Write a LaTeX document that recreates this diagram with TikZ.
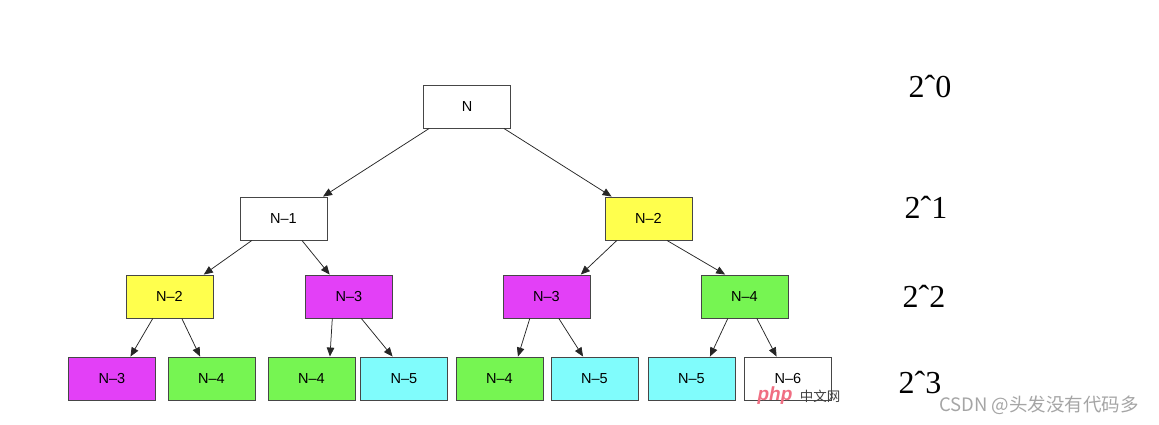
\documentclass[tikz,border=0pt]{standalone}
\usepackage{fontspec}
\setmainfont{Liberation Sans}
\newfontfamily\lblfont{Liberation Serif}
\newfontfamily\cjk{Noto Sans CJK SC}
\usetikzlibrary{arrows.meta,calc}
\definecolor{boxline}{RGB}{70,70,70}
\definecolor{fyellow}{RGB}{255,255,77}
\definecolor{fmagenta}{RGB}{227,64,247}
\definecolor{fgreen}{RGB}{118,245,82}
\definecolor{fcyan}{RGB}{128,252,252}
\definecolor{wmgray}{RGB}{165,165,165}
\definecolor{phppink}{RGB}{240,110,130}
\newcommand\tedge[4]{\draw[edge] ($(#1.south west)!#2!(#1.south east)$) -- ($(#3.north west)!#4!(#3.north east)$);}
\begin{document}
\begin{tikzpicture}[x=1pt,y=-1pt,
  box/.style={draw=boxline, line width=0.9pt, minimum width=87pt, minimum height=43pt, inner sep=0pt,
    font=\fontsize{14.5}{17}\selectfont},
  wbox/.style={box, fill=white},
  ybox/.style={box, fill=fyellow},
  mbox/.style={box, fill=fmagenta},
  gbox/.style={box, fill=fgreen},
  cbox/.style={box, fill=fcyan},
  edge/.style={draw=black!85, line width=0.75pt, -{Triangle[length=9pt,width=7.5pt]}},
  lvl/.style={anchor=base, inner sep=0pt, font=\lblfont\fontsize{32}{36}\selectfont}
]
\useasboundingbox (0,0) rectangle (1159,424);
% level 0
\node[wbox] (n0) at (467,106.5) {N};
% level 1
\node[wbox] (a1) at (283.5,218.5) {N–1};
\node[ybox] (a2) at (648.5,218.5) {N–2};
% level 2
\node[ybox] (b1) at (169.5,296.5) {N–2};
\node[mbox] (b2) at (349,296.5) {N–3};
\node[mbox] (b3) at (546.5,296.5) {N–3};
\node[gbox] (b4) at (744.5,296.5) {N–4};
% level 3
\node[mbox] (c1) at (112,378.5) {N–3};
\node[gbox] (c2) at (211.5,378.5) {N–4};
\node[gbox] (c3) at (311.5,378.5) {N–4};
\node[cbox] (c4) at (404,378.5) {N–5};
\node[gbox] (c5) at (499.5,378.5) {N–4};
\node[cbox] (c6) at (594.5,378.5) {N–5};
\node[cbox] (c7) at (691.5,378.5) {N–5};
\node[wbox] (c8) at (788,378.5) {N–6};
% edges
\tedge{n0}{.07}{a1}{.95}
\tedge{n0}{.92}{a2}{.08}
\tedge{a1}{.14}{b1}{.89}
\tedge{a1}{.71}{b2}{.28}
\tedge{a2}{.14}{b3}{.89}
\tedge{a2}{.71}{b4}{.28}
\tedge{b1}{.31}{c1}{.71}
\tedge{b1}{.64}{c2}{.37}
\tedge{b2}{.31}{c3}{.71}
\tedge{b2}{.64}{c4}{.37}
\tedge{b3}{.31}{c5}{.71}
\tedge{b3}{.64}{c6}{.37}
\tedge{b4}{.31}{c7}{.71}
\tedge{b4}{.64}{c8}{.37}
% level labels
\node[lvl] (l0) at (930,97) {2ˆ0};
\node[lvl] (l1) at (926,218) {2ˆ1};
\node[lvl] (l2) at (924,307) {2ˆ2};
\node[lvl] (l3) at (920,393) {2ˆ3};
% watermarks
\node[inner sep=0pt, anchor=base, text=phppink, font=\fontsize{19}{20}\selectfont\itshape\bfseries] (php) at (775,400) {php};
\node[inner sep=0pt, anchor=base, text=black!75, font=\cjk\fontsize{13.5}{15}\selectfont] (zwn) at (820,401) {中文网};
\node[inner sep=0pt, text=wmgray, font=\cjk\fontsize{18.5}{20}\selectfont] (csdn) at (1039,405) {CSDN @头发没有代码多};
\end{tikzpicture}
\end{document}
